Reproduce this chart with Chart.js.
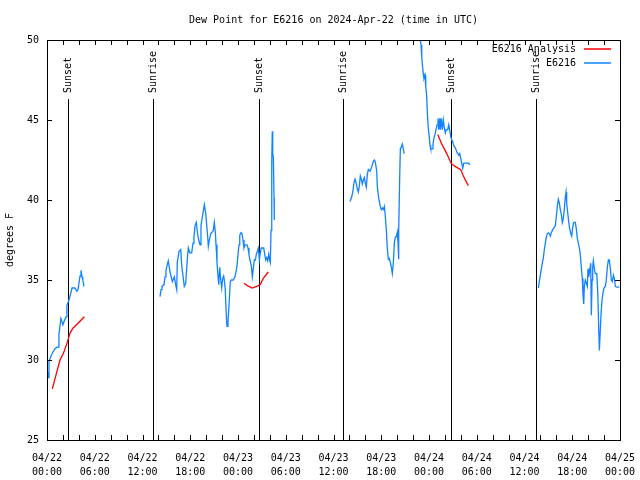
<!DOCTYPE html>
<html>
<head>
<meta charset="utf-8">
<script src="https://cdn.jsdelivr.net/npm/chart.js@4/dist/chart.umd.min.js"></script>
<style>
  body { margin: 0; background: #fff; }
  #dew-chart { display: block; }
</style>
</head>
<body>
<canvas id="dew-chart" width="640" height="480"></canvas>
<script>
// hours since 04/22 00:00 UTC
var blueHours = [0, 0.16, 0.25, 0.5, 0.75, 1.0, 1.25, 1.4, 1.5, 1.75, 1.88, 2.0, 2.14, 2.39, 2.5, 2.76, 3.0, 3.14, 3.5, 3.77, 3.9, 4.15, 4.27, 4.4, 4.5, 4.65,
  9,
  14.2, 14.33, 14.45, 14.7, 14.83, 14.95, 15.08, 15.24, 15.46, 15.75, 16.0, 16.17, 16.3, 16.37, 16.59, 16.8, 16.93, 17.09, 17.25, 17.43, 17.56, 17.68, 17.76, 17.93,
  18.18, 18.35, 18.47, 18.6, 18.76, 18.89, 19.06, 19.23, 19.35, 19.57, 19.77, 19.94, 20.07, 20.19, 20.27, 20.4, 20.57, 20.77, 20.9, 21.02, 21.15, 21.24, 21.36, 21.49,
  21.58, 21.7, 21.83, 21.95, 22.08, 22.2, 22.28, 22.4, 22.53, 22.62, 22.74, 22.83, 22.91, 23.03, 23.16, 23.41, 23.62, 23.75, 23.88, 24.0, 24.13, 24.22, 24.38, 24.5,
  24.63, 24.75, 24.88, 25.13, 25.26, 25.38, 25.5, 25.67, 25.8, 25.92, 26.05, 26.18, 26.3, 26.43, 26.56, 26.68, 26.8, 26.93, 27.23, 27.36, 27.48, 27.61, 27.73, 27.86,
  27.98, 28.06, 28.15, 28.24, 28.31, 28.36, 28.44, 28.53, 28.56,
  33,
  38.08, 38.29, 38.42, 38.58, 38.71, 38.83, 38.99, 39.12, 39.25, 39.37, 39.5, 39.62, 39.75, 39.87, 40.0, 40.12, 40.25, 40.38, 40.59, 40.75, 40.88, 41.0, 41.13, 41.25,
  41.43, 41.5, 41.63, 41.76, 41.88, 42.01, 42.13, 42.26, 42.39, 42.51, 42.64, 42.76, 42.89, 43.01, 43.14, 43.27, 43.39, 43.52, 43.64, 43.77, 43.89, 44.02, 44.11, 44.15,
  44.23, 44.32, 44.4, 44.52, 44.65, 44.77, 44.9,
  45.8,
  46.68, 47.0, 47.09, 47.16, 47.28, 47.37, 47.5, 47.59, 47.71, 47.79, 47.91, 48.04, 48.13, 48.22, 48.38, 48.5, 48.63, 48.76, 48.88, 49.01, 49.13, 49.22, 49.35, 49.42,
  49.55, 49.67, 49.8, 49.93, 50.05, 50.18, 50.35, 50.48, 50.6, 50.73, 50.86, 50.98, 51.11, 51.24, 51.36, 51.49, 51.61, 51.74, 51.86, 51.99, 52.11, 52.24, 52.37, 52.53,
  52.74, 52.94, 53.16,
  57,
  61.74, 61.86, 61.99, 62.12, 62.24, 62.37, 62.49, 62.62, 62.74, 62.87, 63.0, 63.12, 63.25, 63.37, 63.5, 63.62, 63.75, 63.87, 64.0, 64.12, 64.25, 64.38, 64.5, 64.63,
  64.75, 64.88, 65.0, 65.13, 65.22, 65.3, 65.43, 65.56, 65.68, 65.81, 65.93, 66.06, 66.18, 66.39, 66.51, 66.64, 66.76, 66.89, 67.01, 67.14, 67.26, 67.35, 67.44, 67.52,
  67.64, 67.77, 67.89, 67.98, 68.07, 68.2, 68.32, 68.4, 68.49, 68.57, 68.65, 68.78, 68.9, 69.08, 69.2, 69.33, 69.41, 69.49, 69.62, 69.74, 69.87, 69.99, 70.16, 70.28,
  70.41, 70.54, 70.66, 70.79, 70.91, 71.04, 71.17, 71.29, 71.42, 71.6, 71.92];
var blueValues = [29.5, 28.9, 29.9, 30.25, 30.5, 30.7, 30.8, 30.8, 31.6, 32.6, 32.4, 32.2, 32.4, 32.7, 33.4, 33.75, 34.2, 34.5, 34.5, 34.3, 34.4, 35.25, 35.6, 35.2, 35.0, 34.6,
  null,
  33.96, 34.4, 34.6, 34.7, 35.2, 35.6, 35.9, 36.2, 35.5, 34.9, 35.2, 34.7, 34.4, 36.1, 36.8, 36.9, 35.9, 35.25, 34.6, 34.8, 35.8, 36.6, 37.0, 36.7,
  36.7, 37.3, 37.7, 38.4, 38.6, 38.0, 37.5, 37.2, 38.4, 39.1, 39.7, 39.2, 38.4, 37.7, 37.1, 37.5, 37.9, 38.0, 38.1, 38.6, 38.0, 37.2, 36.1, 35.2,
  34.7, 35.8, 35.0, 34.5, 35.1, 35.25, 35.0, 34.4, 32.8, 32.1, 32.4, 33.1, 33.75, 34.9, 35.0, 35.0, 35.2, 35.5, 35.9, 36.6, 37.2, 37.8, 37.96, 37.9,
  37.5, 37.0, 37.2, 37.2, 37.0, 36.6, 36.25, 35.9, 35.2, 35.7, 36.25, 36.25, 36.6, 36.8, 37.0, 36.25, 36.7, 37.0, 37.0, 36.6, 36.25, 36.4, 36.2, 36.6,
  36.25, 36.1, 38.1, 42.3, 44.3, 42.9, 42.7, 40.1, 38.75,
  null,
  39.9, 40.2, 40.5, 41.1, 41.3, 41.1, 40.7, 40.5, 40.9, 41.5, 41.3, 41.0, 41.25, 41.4, 41.05, 40.8, 41.6, 41.9, 41.8, 42.0, 42.2, 42.4, 42.5, 42.4,
  41.8, 40.9, 40.3, 39.9, 39.6, 39.4, 39.5, 39.4, 39.6, 39.0, 38.1, 37.0, 36.3, 36.35, 36.1, 35.8, 35.4, 36.05, 37.3, 37.7, 37.7, 38.0, 37.3, 36.3,
  38.0, 41.5, 43.2, 43.3, 43.5, 43.2, 42.9,
  null,
  50.6, 49.7, 48.96, 48.5, 47.9, 47.6, 47.8, 47.1, 46.5, 45.5, 44.5, 43.9, 43.4, 43.2, 43.2, 43.5, 43.9, 44.1, 44.4, 44.7, 45.1, 44.4, 45.1, 44.4,
  45.1, 44.4, 45.0, 44.5, 44.2, 44.4, 44.4, 44.7, 44.4, 43.96, 43.75, 43.65, 43.4, 43.3, 43.2, 43.0, 42.9, 42.8, 42.9, 42.6, 42.3, 41.98, 42.3, 42.3,
  42.3, 42.3, 42.2,
  null,
  34.5, 34.9, 35.3, 35.7, 36.05, 36.4, 36.9, 37.3, 37.7, 37.9, 37.95, 37.9, 37.75, 37.96, 38.1, 38.2, 38.3, 38.4, 38.96, 39.6, 40.04, 39.8, 39.4, 39.1,
  38.6, 38.85, 39.4, 40.2, 40.5, 39.8, 39.2, 38.6, 38.2, 37.9, 37.75, 38.3, 38.6, 38.6, 38.2, 37.6, 37.3, 37.0, 36.6, 35.8, 35.1, 34.1, 33.5, 34.6,
  35.0, 34.8, 34.6, 35.7, 35.2, 35.6, 36.05, 32.8, 35.0, 35.8, 36.2, 35.7, 35.4, 35.4, 34.3, 31.9, 30.6, 31.5, 32.9, 33.75, 34.2, 34.5, 34.6, 35.0,
  35.8, 36.25, 36.25, 35.7, 35.0, 34.9, 35.3, 35.1, 34.6, 34.55, 34.55];

var redHours = [0.67, 1.2, 1.63, 2.05, 2.55, 2.9, 3.3, 3.7, 4.7,
  15,
  24.75, 25.17, 25.8, 26.35, 26.77, 27.18, 27.81,
  40,
  49.1, 49.6, 50.23, 50.77, 51.27, 51.99, 52.32, 52.94];
var redValues = [28.2, 29.2, 30.0, 30.4, 31.1, 31.7, 32.0, 32.2, 32.7,
  null,
  34.8, 34.65, 34.5, 34.6, 34.7, 35.1, 35.5,
  null,
  44.1, 43.5, 42.9, 42.3, 42.1, 41.9, 41.5, 40.9];

var eventHours = [2.6, 13.3, 26.7, 37.2, 50.8, 61.4];
var eventLabels = ['Sunset', 'Sunrise', 'Sunset', 'Sunrise', 'Sunset', 'Sunrise'];

var xTickDays = ['04/22', '04/22', '04/22', '04/22', '04/23', '04/23', '04/23', '04/23', '04/24', '04/24', '04/24', '04/24', '04/25'];
var xTickTimes = ['00:00', '06:00', '12:00', '18:00', '00:00', '06:00', '12:00', '18:00', '00:00', '06:00', '12:00', '18:00', '00:00'];
var yTicks = [25, 30, 35, 40, 45, 50];

var FONT = '10px "DejaVu Sans Mono", monospace';

function toPoints(xs, ys) {
  var pts = [];
  for (var i = 0; i < xs.length; i++) pts.push({ x: xs[i], y: ys[i] });
  return pts;
}

var gnuplotLook = {
  id: 'gnuplotLook',
  beforeDatasetsDraw: function(chart) {
    var ctx = chart.ctx, a = chart.chartArea, xs = chart.scales.x;
    ctx.save();
    ctx.strokeStyle = '#000';
    ctx.lineWidth = 1;
    ctx.fillStyle = '#000';
    ctx.font = FONT;
    for (var i = 0; i < eventHours.length; i++) {
      var px = Math.round(xs.getPixelForValue(eventHours[i])) + 0.5;
      ctx.beginPath();
      ctx.moveTo(px, 99);
      ctx.lineTo(px, a.bottom);
      ctx.stroke();
      ctx.save();
      ctx.translate(px, 93);
      ctx.rotate(-Math.PI / 2);
      ctx.textAlign = 'left';
      ctx.textBaseline = 'middle';
      ctx.fillText(eventLabels[i], 0, 0);
      ctx.restore();
    }
    ctx.restore();
  },
  afterDraw: function(chart) {
    var ctx = chart.ctx, a = chart.chartArea, xs = chart.scales.x, ys = chart.scales.y;
    ctx.save();
    ctx.strokeStyle = '#000';
    ctx.lineWidth = 1;
    ctx.strokeRect(a.left + 0.5, a.top + 0.5, a.right - a.left, a.bottom - a.top);

    // inward ticks, every 2 hours on x, mirrored on top and right
    ctx.beginPath();
    for (var h = 2; h < 72; h += 2) {
      var px = Math.round(xs.getPixelForValue(h)) + 0.5;
      ctx.moveTo(px, a.bottom); ctx.lineTo(px, a.bottom - 5);
      ctx.moveTo(px, a.top); ctx.lineTo(px, a.top + 5);
    }
    for (var j = 1; j < yTicks.length - 1; j++) {
      var py = Math.round(ys.getPixelForValue(yTicks[j])) + 0.5;
      ctx.moveTo(a.left, py); ctx.lineTo(a.left + 5, py);
      ctx.moveTo(a.right, py); ctx.lineTo(a.right - 5, py);
    }
    ctx.stroke();

    ctx.fillStyle = '#000';
    ctx.font = FONT;
    ctx.textAlign = 'center';
    ctx.textBaseline = 'middle';
    ctx.fillText(chart.options.plugins.title.text, (a.left + a.right) / 2, 20);

    ctx.save();
    ctx.translate(10, (a.top + a.bottom) / 2);
    ctx.rotate(-Math.PI / 2);
    ctx.fillText('degrees F', 0, 0);
    ctx.restore();

    // legend, top right inside the plot
    var ds = chart.data.datasets;
    for (var k = 0; k < ds.length; k++) {
      var ly = 49 + k * 14;
      ctx.textAlign = 'right';
      ctx.fillStyle = '#000';
      ctx.fillText(ds[k].label, 576, ly);
      ctx.strokeStyle = ds[k].borderColor;
      ctx.lineWidth = 1.5;
      ctx.beginPath();
      ctx.moveTo(584, ly);
      ctx.lineTo(611, ly);
      ctx.stroke();
    }
    ctx.restore();
  }
};

var chart = new Chart(document.getElementById('dew-chart'), {
  type: 'line',
  data: {
    datasets: [
      {
        label: 'E6216 Analysis',
        data: toPoints(redHours, redValues),
        borderColor: '#ff0000',
        borderWidth: 1.3,
        pointRadius: 0,
        spanGaps: false,
        tension: 0
      },
      {
        label: 'E6216',
        data: toPoints(blueHours, blueValues),
        borderColor: '#1084ff',
        borderWidth: 1.3,
        pointRadius: 0,
        spanGaps: false,
        tension: 0
      }
    ]
  },
  options: {
    responsive: false,
    animation: false,
    events: [],
    layout: { padding: { top: 40, right: 20, left: 0, bottom: 0 } },
    plugins: {
      legend: { display: false },
      tooltip: { enabled: false },
      title: { display: false, text: 'Dew Point for E6216 on 2024-Apr-22 (time in UTC)' }
    },
    scales: {
      x: {
        type: 'linear',
        min: 0,
        max: 72,
        grid: { display: false, drawTicks: false },
        border: { display: false },
        afterFit: function(scale) {
          scale.height = 40;
          scale.paddingLeft = 0;
          scale.paddingRight = 0;
        },
        ticks: {
          stepSize: 6,
          autoSkip: false,
          maxRotation: 0,
          padding: 11,
          color: '#000',
          font: { family: '"DejaVu Sans Mono", monospace', size: 10, lineHeight: 1.45 },
          callback: function(value) {
            var i = Math.round(value / 6);
            return [xTickDays[i], xTickTimes[i]];
          }
        }
      },
      y: {
        min: 25,
        max: 50,
        grid: { display: false, drawTicks: false },
        border: { display: false },
        afterFit: function(scale) {
          scale.width = 47;
          scale.paddingTop = 0;
          scale.paddingBottom = 0;
        },
        afterBuildTicks: function(scale) {
          scale.ticks = yTicks.map(function(v) { return { value: v }; });
        },
        ticks: {
          padding: 8,
          color: '#000',
          font: { family: '"DejaVu Sans Mono", monospace', size: 10 }
        }
      }
    }
  },
  plugins: [gnuplotLook]
});
</script>
</body>
</html>
